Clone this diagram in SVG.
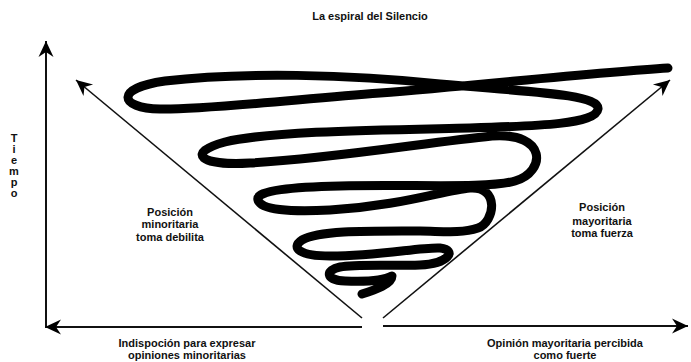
<svg xmlns="http://www.w3.org/2000/svg" width="691" height="362" viewBox="0 0 691 362">
<style>
.t{font-family:"Liberation Sans",Arial,sans-serif;font-weight:bold;font-size:11px;fill:#111;text-anchor:middle}
.ax{stroke:#111;stroke-width:2;fill:none}
.dg{stroke:#111;stroke-width:1.6;fill:none}
.sp{stroke:#000;stroke-width:9;fill:none;stroke-linecap:round;stroke-linejoin:round}
</style>
<defs>
<marker id="ah" markerUnits="userSpaceOnUse" markerWidth="20" markerHeight="20" viewBox="-18 -10 20 20" refX="0" refY="0" orient="auto">
<path d="M0,0 L-16,-7.5 L-11,0 L-16,7.5 Z" fill="#000"/>
</marker>
</defs>
<rect width="691" height="362" fill="#fff"/>
<g id="title"><text class="t" x="370" y="20">La espiral del Silencio</text></g>
<g id="axis-label">
<text class="t" x="14" y="142">T</text>
<text class="t" x="14" y="153">i</text>
<text class="t" x="14" y="164">e</text>
<text class="t" x="14" y="175">m</text>
<text class="t" x="14" y="186">p</text>
<text class="t" x="14" y="197">o</text>
</g>
<g id="connectors">
<line class="ax" x1="46" y1="328" x2="46" y2="41" marker-end="url(#ah)"/>
<line class="ax" x1="362" y1="327" x2="45" y2="327" marker-end="url(#ah)"/>
<line class="ax" x1="383" y1="326" x2="688" y2="326" marker-end="url(#ah)"/>
<line class="dg" x1="362" y1="318" x2="76" y2="80" marker-end="url(#ah)"/>
<line class="dg" x1="383" y1="318" x2="670" y2="80" marker-end="url(#ah)"/>
</g>
<g id="spiral">
<path class="sp" d="M668,68 C600,72 470,86 380,93 C290,100 200,110 160,109 C118,108 115,88 165,81 C240,72 350,74 440,84 C530,92 600,94 598,109 C596,124 540,126 470,128 C380,130 270,131 225,142 C185,153 200,166 250,163 C330,159 430,142 492,136 C548,132 546,172 515,181 C488,189 410,184 340,186 C295,187 255,190 258,200 C260,210 290,212 330,210 C400,206 445,190 470,188 C500,186 495,222 478,228 C460,234 440,231 420,231 C370,231 320,230 302,240 C290,248 300,256 330,256 C380,256 420,247 440,248 C458,250 448,264 420,265 C390,266 355,264 340,267 C325,270 325,280 345,281 C370,282 385,280 392,276 C392,284 375,290 362,294"/>
</g>
<g id="label-left">
<text class="t" x="170" y="216">Posición</text>
<text class="t" x="170" y="228">minoritaria</text>
<text class="t" x="170" y="241">toma debilita</text>
</g>
<g id="label-right">
<text class="t" x="602" y="211">Posición</text>
<text class="t" x="602" y="225">mayoritaria</text>
<text class="t" x="602" y="237">toma fuerza</text>
</g>
<g id="label-bottom-left">
<text class="t" x="187" y="347">Indispoción para expresar</text>
<text class="t" x="187" y="359">opiniones minoritarias</text>
</g>
<g id="label-bottom-right">
<text class="t" x="565" y="347">Opinión mayoritaria percibida</text>
<text class="t" x="565" y="359">como fuerte</text>
</g>
</svg>
